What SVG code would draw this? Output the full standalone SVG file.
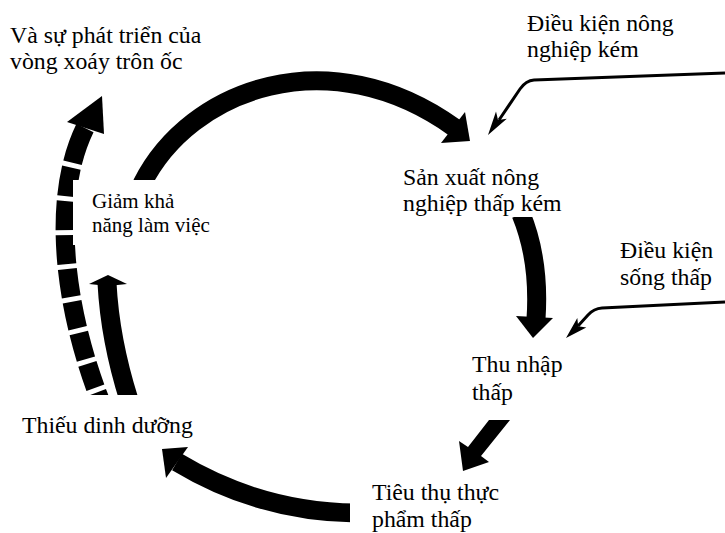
<svg xmlns="http://www.w3.org/2000/svg" width="725" height="533" viewBox="0 0 725 533">
<style>
.t{font-family:"Liberation Serif","Times New Roman",serif;font-size:23.8px;fill:#000}
.ts{font-family:"Liberation Serif","Times New Roman",serif;font-size:21px;fill:#000}
.thick{fill:none;stroke:#000;stroke-width:19}
.thin{fill:none;stroke:#000;stroke-width:3;stroke-linejoin:round}
.head{fill:#000}
.bg{fill:#fff}
</style>
<rect width="725" height="533" fill="#fff"/>
<g id="connectors">
  <!-- top arc: Giam kha nang -> San xuat -->
  <path class="thick" d="M142 184 C190 88 330 38 455 128"/>
  <polygon class="head" points="465,112 470,141 441,143"/>
  <!-- San xuat -> Thu nhap -->
  <path class="thick" stroke-width="18" d="M521 214 Q540 260 536 319"/>
  <polygon class="head" points="516,316 553,318 533,338"/>
  <!-- Thu nhap -> Tieu thu -->
  <polygon class="head" points="489,420 510,420 481,456 489,462 463,471 459,441 468,447"/>
  <!-- Tieu thu -> Thieu dinh duong -->
  <path class="thick" stroke-width="17" d="M356 513 Q260 512 177 462"/>
  <polygon class="head" points="188,447 162,449 166,478"/>
  <!-- Thieu dinh duong -> Giam kha nang (inner) -->
  <path class="thick" d="M129 400 Q110 340 107 283"/>
  <polygon class="head" points="89,284 108,275 127,284 108,286"/>
  <!-- outer dashed spiral -->
  <path class="thick" stroke-dasharray="37 5 29 5 29 5 29 5 28 5 27 5 27 5 25 5 26 5 30" d="M85 128 C50 200 65 310 100 400"/>
  <polygon class="head" points="102,96 104,134 67,122"/>
  <!-- Dieu kien nong nghiep kem -->
  <path class="thin" d="M725 73 L534 80 Q526 80.5 520 89 L499 120"/>
  <polygon class="head" points="488,135 496,111.5 498,120 506.8,118.7"/>
  <!-- Dieu kien song thap -->
  <path class="thin" d="M725 302 L602 308 Q594 308.5 588 315 L578 326"/>
  <polygon class="head" points="566,338 577.3,318.1 578.2,326.3 586.3,327.5"/>
</g>
<g id="node-vong-xoay">
  <text class="t" x="10" y="43">Và sự phát triển của</text>
  <text class="t" x="10" y="69">vòng xoáy trôn ốc</text>
</g>
<g id="node-dieu-kien-nong-nghiep">
  <text class="t" x="527" y="31">Điều kiện nông</text>
  <text class="t" x="527" y="57">nghiệp kém</text>
</g>
<g id="node-san-xuat">
  <rect class="bg" x="395" y="143" width="180" height="74"/>
  <text class="t" x="403" y="185">Sản xuất nông</text>
  <text class="t" x="403" y="211">nghiệp thấp kém</text>
</g>
<g id="node-dieu-kien-song">
  <text class="t" x="620" y="258">Điều kiện</text>
  <text class="t" x="620" y="285">sống thấp</text>
</g>
<g id="node-thu-nhap">
  <rect class="bg" x="462" y="338" width="118" height="82"/>
  <text class="t" x="472" y="372">Thu nhập</text>
  <text class="t" x="472" y="400">thấp</text>
</g>
<g id="node-tieu-thu">
  <rect class="bg" x="350" y="476" width="175" height="57"/>
  <text class="t" x="372" y="500">Tiêu thụ thực</text>
  <text class="t" x="372" y="527">phẩm thấp</text>
</g>
<g id="node-thieu-dinh-duong">
  <rect class="bg" x="10" y="395" width="195" height="50"/>
  <text class="t" x="22" y="433">Thiếu dinh dưỡng</text>
</g>
<g id="node-giam-kha-nang">
  <rect class="bg" x="73" y="180" width="160" height="65"/>
  <text class="ts" x="92" y="208">Giảm khả</text>
  <text class="ts" x="92" y="232">năng làm việc</text>
</g>
</svg>
